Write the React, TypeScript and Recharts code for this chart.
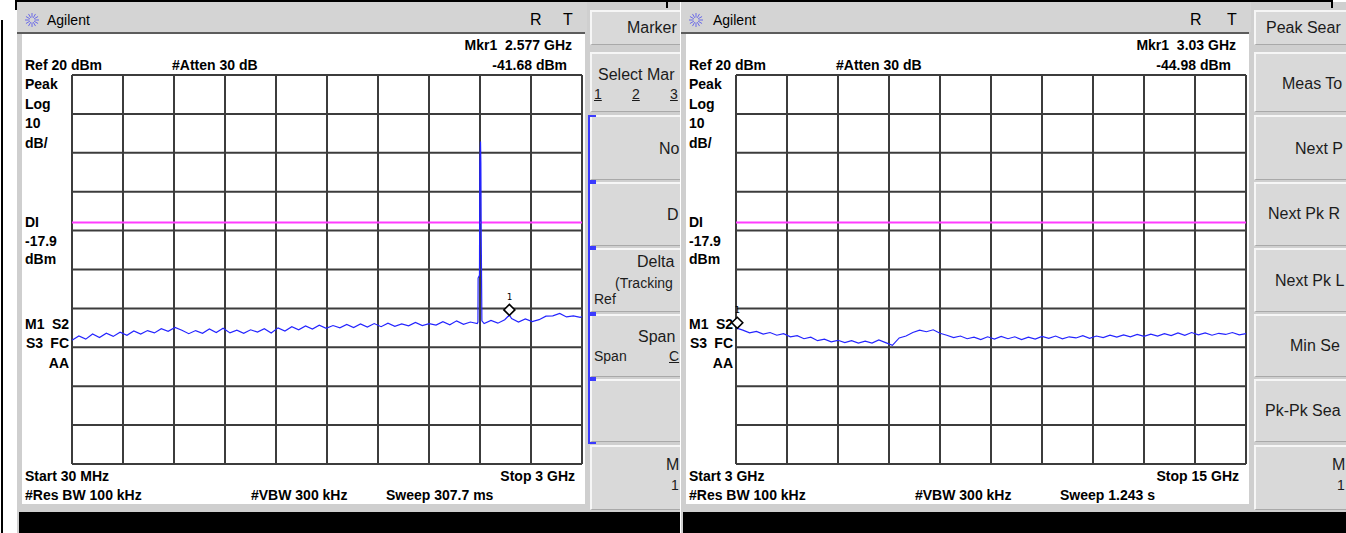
import React from 'react';
import { LineChart, Line, XAxis, YAxis, CartesianGrid, ReferenceLine, ReferenceDot } from 'recharts';

const FONT = 'Arial, "Liberation Sans", Helvetica, sans-serif';

// sweep 1: 30 MHz .. 3 GHz (GHz / dBm)
const leftFreq = [
  0.03, 0.07, 0.11, 0.15, 0.19, 0.23, 0.27, 0.31, 0.35, 0.39, 0.43, 0.47, 0.51, 0.55, 0.59,
  0.63, 0.67, 0.71, 0.75, 0.79, 0.83, 0.87, 0.91, 0.95, 0.99, 1.03, 1.07, 1.11, 1.15, 1.19,
  1.23, 1.27, 1.31, 1.35, 1.39, 1.43, 1.47, 1.51, 1.55, 1.59, 1.63, 1.67, 1.71, 1.75, 1.79,
  1.83, 1.87, 1.91, 1.95, 1.99, 2.03, 2.07, 2.11, 2.15, 2.19, 2.23, 2.27, 2.31, 2.35, 2.39,
  2.394, 2.395, 2.403, 2.405, 2.409, 2.411, 2.413, 2.417,
  2.43, 2.47, 2.51, 2.55, 2.577, 2.59, 2.63, 2.67, 2.71, 2.75, 2.79, 2.83, 2.87, 2.91, 2.95,
  2.99, 3.0,
];
const leftLevel = [
  -48.2, -47.1, -47.9, -46.6, -47.5, -46.4, -47.2, -46.1, -46.9, -45.8, -46.6, -45.7, -46.3, -45.2, -45.9,
  -44.9, -45.6, -46.5, -45.7, -46.4, -45.3, -46.2, -45.1, -46.3, -45.6, -46.4, -45.5, -46.1, -45.2, -46.3,
  -45.0, -45.8, -44.7, -45.5, -44.5, -45.3, -44.3, -45.1, -44.4, -45.0, -44.1, -44.9, -44.0, -44.8, -43.9,
  -44.7, -43.8, -44.6, -44.0, -44.5, -43.6, -44.4, -43.9, -44.3, -43.4, -44.2, -43.2, -44.1, -43.5, -43.9,
  -43.5, -32.2, -31.5, -2.6, 2.9, -2.6, -20.6, -43.2,
  -43.9, -43.1, -43.8, -42.9, -41.7, -42.6, -43.5, -42.7, -43.4, -42.9, -42.0, -41.9, -41.3, -42.2, -41.9,
  -42.3, -42.1,
];
const leftTicks = [0.03, 0.327, 0.624, 0.921, 1.218, 1.515, 1.812, 2.109, 2.406, 2.703, 3.0];

// sweep 2: 3 GHz .. 15 GHz
const rightFreq = [
  3.0, 3.16, 3.32, 3.48, 3.64, 3.8, 3.96, 4.12, 4.28, 4.44, 4.6, 4.76, 4.92, 5.08, 5.24, 5.4,
  5.56, 5.72, 5.88, 6.04, 6.2, 6.36, 6.52, 6.68, 6.84, 7.0, 7.16, 7.32, 7.48, 7.64, 7.8, 7.96,
  8.12, 8.28, 8.44, 8.6, 8.76, 8.92, 9.08, 9.24, 9.4, 9.56, 9.72, 9.88, 10.04, 10.2, 10.36, 10.52,
  10.68, 10.84, 11.0, 11.16, 11.32, 11.48, 11.64, 11.8, 11.96, 12.12, 12.28, 12.44, 12.6, 12.76,
  12.92, 13.08, 13.24, 13.4, 13.56, 13.72, 13.88, 14.04, 14.2, 14.36, 14.52, 14.68, 14.84, 15.0,
];
const rightLevel = [
  -45.0, -45.6, -46.3, -45.9, -46.6, -46.2, -46.9, -46.5, -47.3, -47.0, -47.8, -47.4, -48.3, -47.9, -48.6, -48.2,
  -48.8, -48.3, -48.9, -48.4, -48.9, -48.1, -48.8, -49.5, -47.6, -47.1, -46.2, -45.6, -46.0, -45.5, -46.4, -46.9,
  -47.5, -47.1, -47.8, -47.4, -48.0, -47.3, -47.9, -47.2, -47.8, -47.3, -48.0, -47.4, -47.9, -47.2, -47.7, -47.1,
  -47.8, -47.3, -47.6, -47.0, -47.7, -47.1, -47.5, -46.9, -47.4, -46.8, -47.3, -46.7, -47.2, -46.6,
  -47.1, -46.5, -47.0, -46.3, -46.9, -46.2, -46.8, -46.3, -46.9, -46.4, -46.7, -46.2, -46.8, -46.5,
];
const rightTicks = [3, 4.2, 5.4, 6.6, 7.8, 9, 10.2, 11.4, 12.6, 13.8, 15];

const levelTicks = [20, 10, 0, -10, -20, -30, -40, -50, -60, -70, -80];
const displayLine = -17.9;

const buttonRows = [[10, 45], [52, 112], [115, 180], [182, 246], [248, 312], [314, 377], [379, 442], [445, 510]];

type Label = { text: string; x: number; y: number; size?: number; u?: boolean };

// soft key captions as far as they show on screen
const leftKeys: Label[] = [
  { text: 'Marker', x: 610, y: 28 },
  { text: 'Select Mar', x: 581, y: 75 },
  { text: '1', x: 577, y: 94, size: 14, u: true },
  { text: '2', x: 615, y: 94, size: 14, u: true },
  { text: '3', x: 653, y: 94, size: 14, u: true },
  { text: 'No', x: 642, y: 149 },
  { text: 'D', x: 650, y: 215 },
  { text: 'Delta', x: 620, y: 262 },
  { text: '(Tracking', x: 598, y: 283, size: 14 },
  { text: 'Ref', x: 577, y: 299, size: 14 },
  { text: 'Span', x: 621, y: 337 },
  { text: 'Span', x: 577, y: 356, size: 14 },
  { text: 'C', x: 652, y: 356, size: 14, u: true },
  { text: 'M', x: 649, y: 465 },
  { text: '1', x: 654, y: 485, size: 14 },
];

const rightKeys: Label[] = [
  { text: 'Peak Sear', x: 585, y: 28 },
  { text: 'Meas To', x: 601, y: 84 },
  { text: 'Next P', x: 614, y: 149 },
  { text: 'Next Pk R', x: 587, y: 214 },
  { text: 'Next Pk L', x: 594, y: 281 },
  { text: 'Min Se', x: 609, y: 346 },
  { text: 'Pk-Pk Sea', x: 584, y: 411 },
  { text: 'M', x: 651, y: 465 },
  { text: '1', x: 656, y: 485, size: 14 },
];

function Txt({ x, y, children, size = 14, bold = true, end = false, u = false, color = '#000' }: any) {
  return (
    <div
      style={{
        position: 'absolute',
        left: x,
        top: y - 9,
        lineHeight: '18px',
        fontSize: size,
        fontWeight: bold ? 700 : 400,
        fontFamily: FONT,
        whiteSpace: 'pre',
        color,
        textDecoration: u ? 'underline' : 'none',
        transform: end ? 'translateX(-100%)' : undefined,
      }}
    >
      {children}
    </div>
  );
}

function MarkerDiamond(props: any) {
  const { cx, cy } = props;
  const y = cy - 5;
  return (
    <g>
      <path
        d={`M${cx} ${y - 5.5} L${cx + 5.5} ${y} L${cx} ${y + 5.5} L${cx - 5.5} ${y} Z`}
        fill="#fff"
        stroke="#000"
        strokeWidth={1.6}
      />
      <text x={cx} y={y - 10} fontSize={9} textAnchor="middle" fontFamily="DejaVu Sans Mono">
        1
      </text>
    </g>
  );
}

function Spark({ x, y }: { x: number; y: number }) {
  const rays = [0, 30, 60, 90, 120, 150, 180, 210, 240, 270, 300, 330];
  return (
    <svg style={{ position: 'absolute', left: x, top: y }} width={18} height={16}>
      {rays.map((a) => {
        const r = (a * Math.PI) / 180;
        return (
          <line
            key={a}
            x1={9 + Math.cos(r) * 2.5}
            y1={8 + Math.sin(r) * 2.5}
            x2={9 + Math.cos(r) * 7}
            y2={8 + Math.sin(r) * 7}
            stroke="#6a6ae8"
            strokeWidth={1}
          />
        );
      })}
    </svg>
  );
}

function Screen(p: any) {
  const rows = p.freq.map((f: number, i: number) => ({ f, v: p.level[i] }));
  return (
    <div
      style={{
        position: 'absolute',
        left: p.x0,
        top: 2,
        width: p.width,
        height: 531,
        overflow: 'hidden',
        background: '#cfcfcf',
      }}
    >
      <div style={{ position: 'absolute', top: -2, left: 0, width: '100%', height: 533 }}>
        {/* title bar */}
        <div style={{ position: 'absolute', left: 0, top: 2, width: 570, height: 30, background: '#d4d4d4' }} />
        <Spark x={6} y={12} />
        <Txt x={p.titleX} y={20} bold={false}>Agilent</Txt>
        <Txt x={p.rX} y={20} bold={false} size={16}>R</Txt>
        <Txt x={546} y={20} bold={false} size={16}>T</Txt>
        <div style={{ position: 'absolute', left: 0, top: 32, width: 568, height: 2, background: '#5c5c5c' }} />

        {/* white display area */}
        <div style={{ position: 'absolute', left: 5, top: 34, width: 563, height: 470, background: '#fff' }} />

        <Txt x={555} y={45} end>{p.mkrFreq}</Txt>
        <Txt x={550} y={65} end>{p.mkrLevel}</Txt>
        <Txt x={8} y={65}>Ref 20 dBm</Txt>
        <Txt x={155} y={65}>#Atten 30 dB</Txt>
        <Txt x={8} y={84}>Peak</Txt>
        <Txt x={8} y={104}>Log</Txt>
        <Txt x={8} y={123}>10</Txt>
        <Txt x={8} y={143}>dB/</Txt>
        <Txt x={8} y={222}>DI</Txt>
        <Txt x={8} y={241}>-17.9</Txt>
        <Txt x={8} y={259}>dBm</Txt>
        <Txt x={8} y={324}>M1</Txt>
        <Txt x={52} y={324} end>S2</Txt>
        <Txt x={9} y={343}>S3</Txt>
        <Txt x={52} y={343} end>FC</Txt>
        <Txt x={52} y={363} end>AA</Txt>
        <Txt x={8} y={476}>{p.start}</Txt>
        <Txt x={558} y={476} end>{p.stop}</Txt>
        <Txt x={8} y={495}>#Res BW 100 kHz</Txt>
        <Txt x={234} y={495}>#VBW 300 kHz</Txt>
        <Txt x={p.sweepX} y={495}>{p.sweep}</Txt>

        <div style={{ position: 'absolute', left: 53, top: 73 }}>
          <LineChart width={514} height={393} data={rows} margin={{ top: 2, right: 2, bottom: 2, left: 2 }}>
            <CartesianGrid stroke="#3c3c3c" strokeWidth={2} />
            <XAxis type="number" dataKey="f" domain={p.domain} ticks={p.ticks} hide />
            <YAxis type="number" domain={[-80, 20]} ticks={levelTicks} hide />
            <ReferenceLine y={displayLine} stroke="#ff3cff" strokeWidth={2} />
            <Line
              type="linear"
              dataKey="v"
              stroke="#2424ff"
              strokeWidth={1.2}
              dot={false}
              isAnimationActive={false}
            />
            <ReferenceDot x={p.marker.f} y={p.marker.v} shape={MarkerDiamond} />
          </LineChart>
        </div>

        {/* soft keys */}
        {buttonRows.map(([t, b]) => (
          <div
            key={t}
            style={{
              position: 'absolute',
              left: 573,
              top: t,
              width: 120,
              height: b - t,
              background: '#d9d9d9',
              borderTop: '2px solid #f6f6f6',
              borderLeft: '2px solid #f6f6f6',
              borderBottom: '1px solid #a9a9a9',
              boxSizing: 'border-box',
            }}
          />
        ))}
        {p.brackets &&
          buttonRows.slice(2, 7).map(([t, b]) => (
            <React.Fragment key={t}>
              <div style={{ position: 'absolute', left: 571, top: t, width: 2, height: b - t + 2, background: '#3b3bff' }} />
              <div style={{ position: 'absolute', left: 571, top: t, width: 8, height: 2, background: '#3b3bff' }} />
              <div style={{ position: 'absolute', left: 571, top: b, width: 8, height: 2, background: '#3b3bff' }} />
            </React.Fragment>
          ))}
        {p.keys.map((k: Label, i: number) => (
          <Txt key={i} x={k.x} y={k.y} size={k.size ?? 16} bold={false} u={k.u} color="#1c1c1c">
            {k.text}
          </Txt>
        ))}

        {/* message line */}
        <div style={{ position: 'absolute', left: 2, top: 512, width: '100%', height: 21, background: '#000' }} />
      </div>
    </div>
  );
}

export default function App() {
  return (
    <div
      style={{
        position: 'absolute',
        left: 0,
        top: 0,
        width: 1346,
        height: 533,
        background: '#fff',
        overflow: 'hidden',
      }}
    >
      <style>{'.recharts-surface{overflow:visible}'}</style>
      <Screen
        x0={17}
        width={663}
        freq={leftFreq}
        level={leftLevel}
        domain={[0.03, 3]}
        ticks={leftTicks}
        marker={{ f: 2.577, v: -41.68 }}
        mkrFreq="Mkr1  2.577 GHz"
        mkrLevel="-41.68 dBm"
        start="Start 30 MHz"
        stop="Stop 3 GHz"
        sweep="Sweep 307.7 ms"
        sweepX={369}
        titleX={30}
        rX={513}
        keys={leftKeys}
        brackets
      />
      <Screen
        x0={681}
        width={665}
        freq={rightFreq}
        level={rightLevel}
        domain={[3, 15]}
        ticks={rightTicks}
        marker={{ f: 3.03, v: -44.98 }}
        mkrFreq="Mkr1  3.03 GHz"
        mkrLevel="-44.98 dBm"
        start="Start 3 GHz"
        stop="Stop 15 GHz"
        sweep="Sweep 1.243 s"
        sweepX={379}
        titleX={32}
        rX={509}
        keys={rightKeys}
        brackets={false}
      />
      <div style={{ position: 'absolute', left: 15, top: 0, width: 1318, height: 2, background: '#000' }} />
      <div style={{ position: 'absolute', left: 15, top: 0, width: 2, height: 10, background: '#000' }} />
      <div style={{ position: 'absolute', left: 666, top: 0, width: 2, height: 8, background: '#000' }} />
      <div style={{ position: 'absolute', left: 1331, top: 0, width: 2, height: 8, background: '#000' }} />
      <div style={{ position: 'absolute', left: 1, top: 20, width: 2, height: 513, background: '#000' }} />
    </div>
  );
}
